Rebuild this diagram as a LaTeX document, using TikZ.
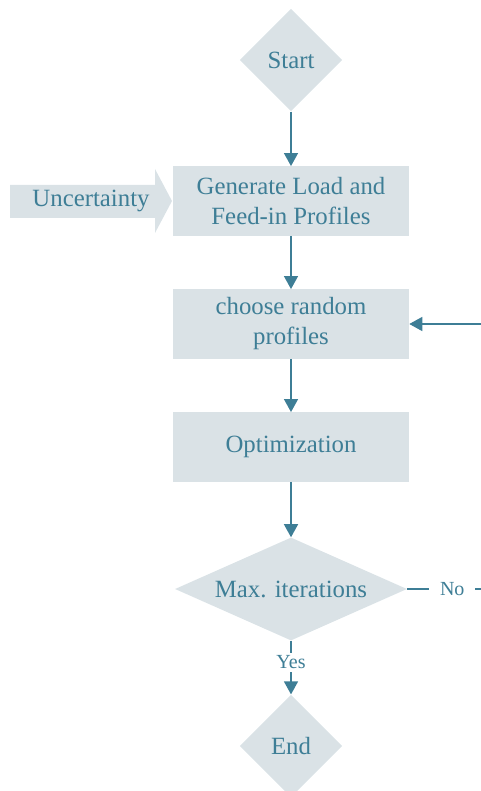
\documentclass[tikz,border=0pt]{standalone}
\usepackage{fontspec}
\setmainfont{Liberation Serif}
\usepackage{tikz}
\usetikzlibrary{arrows.meta,positioning,shapes.geometric}
\definecolor{flowblue}{RGB}{62,126,150}
\definecolor{boxgray}{RGB}{218,226,230}
\tikzset{%
  >={Triangle[width=10.5pt,length=9.75pt]},
  % Specifications for style of nodes:
            base/.style = {rectangle, fill=boxgray, draw=none,
                           minimum width=177pt, minimum height=52pt,
                           text centered, inner sep=0pt},
  term/.style = {base, diamond, minimum width=77pt, minimum height=77pt},
  decide/.style = {base, diamond, aspect=2.25, minimum width=174pt, minimum height=77.25pt},
  yesno/.style = {fill=white, font=\rmfamily\fontsize{15}{18}\selectfont, inner xsep=8pt, inner ysep=2pt},
  flow/.style = {->, draw=flowblue, line width=1pt},
}

\begin{document}
\begin{tikzpicture}[x=0.75pt, y=-0.75pt, node distance=92.25pt, every node/.style={text=flowblue, font=\rmfamily\fontsize{18.6}{22.5}\selectfont}, align=center]
  \useasboundingbox (0,0) rectangle (480,791);

  % Specification of nodes (position, etc.)
  \node (onStart)    [term] at (291,60)                          {Start};
  \node (onGenerate) [base, below of=onStart, yshift=-13.5pt]    {Generate Load and\\Feed-in Profiles};
  \node (onChoose)   [base, below of=onGenerate]                 {choose random\\profiles};
  \node (onOptim)    [base, below of=onChoose]                   {Optimization};
  \node (onMaxIter)  [decide, below of=onOptim, yshift=-14.25pt] {Max. iterations};
  \node (onEnd)      [term, below of=onMaxIter, yshift=-25.5pt]  {End};

  % block arrow for the input on the left
  \fill[boxgray] (10,185) -- (155,185) -- (155,169) -- (172,201) -- (155,233) -- (155,218) -- (10,218) -- cycle;
  \node (onUncert) at (91,201) {Uncertainty};

  % Specification of lines between nodes specified above
  \draw[flow] (onStart) -- (onGenerate);
  \draw[flow] (onGenerate) -- (onChoose);
  \draw[flow] (onChoose) -- (onOptim);
  \draw[flow] (onOptim) -- (onMaxIter);
  \draw[flow] (onMaxIter) -- node [yesno, pos=0.4] {Yes} (onEnd);
  \draw[flow] (onMaxIter.east) -- node [yesno] {No} ++(90,0) |- (onChoose.east);
\end{tikzpicture}
\end{document}
